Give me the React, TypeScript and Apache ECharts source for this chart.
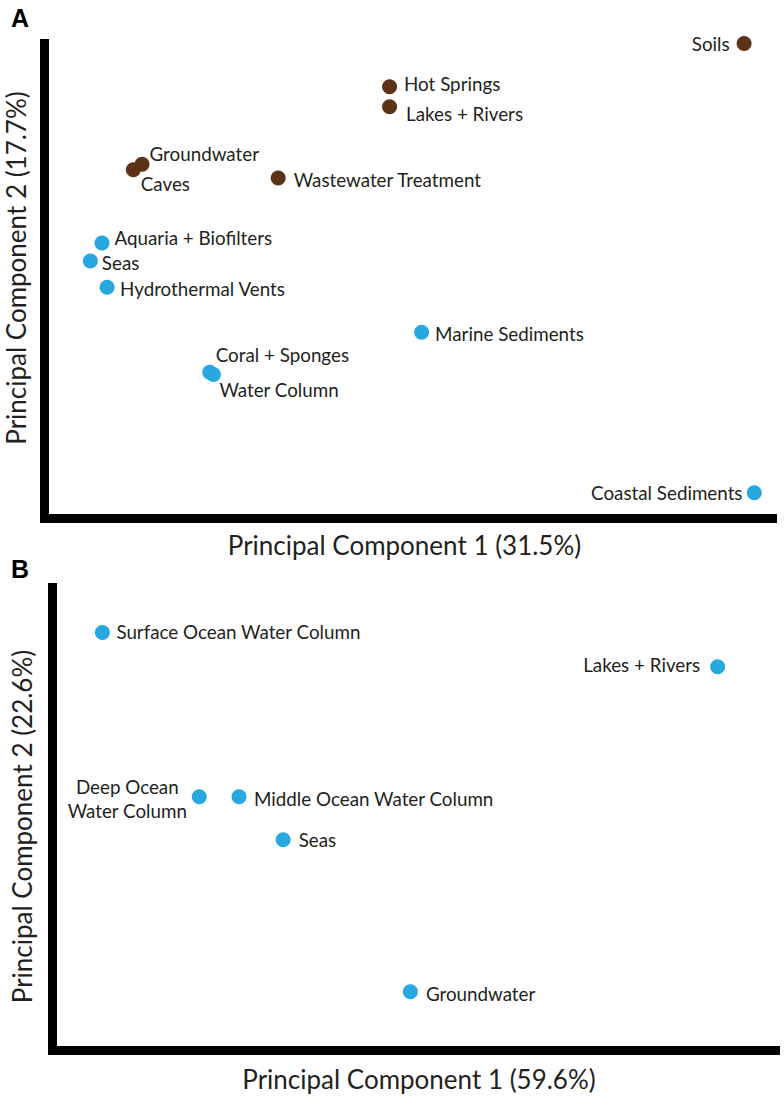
import { useEffect, useRef } from "react";
import * as echarts from "echarts";

// ---------- Data (arbitrary PCA score units 0..100) ----------
const aBrownNames = ["Soils", "Hot Springs", "Lakes + Rivers", "Groundwater", "Caves", "Wastewater Treatment"];
const aBrownPC1 = [96.1, 47.4, 47.4, 13.4, 12.2, 32.1];
const aBrownPC2 = [100.0, 90.9, 86.7, 74.6, 73.4, 71.7];

const aBlueNames = ["Aquaria + Biofilters", "Seas", "Hydrothermal Vents", "Marine Sediments", "Coral + Sponges", "Water Column", "Coastal Sediments"];
const aBluePC1 = [7.9, 6.3, 8.6, 51.8, 22.7, 23.2, 97.5];
const aBluePC2 = [58.0, 54.2, 48.7, 39.2, 30.8, 30.3, 5.4];

const bNames = ["Surface Ocean Water Column", "Lakes + Rivers", "Deep Ocean\nWater Column", "Middle Ocean Water Column", "Seas", "Groundwater"];
const bPC1 = [6.9, 92.0, 20.3, 25.8, 31.9, 49.5];
const bPC2 = [90.3, 82.9, 54.8, 54.8, 45.5, 12.7];

const axisTitlesA = ["Principal Component 1 (31.5%)", "Principal Component 2 (17.7%)"];
const axisTitlesB = ["Principal Component 1 (59.6%)", "Principal Component 2 (22.6%)"];
const panelLetters = ["A", "B"];

// ---------- Label placement (style only) ----------
type Place = [string, number, number, string?];
const aBrownPlace: Place[] = [
  ["left", -2, 0],
  ["right", 2, -3.4],
  ["right", 4, 7],
  ["right", -5, -11],
  ["right", -5, 14],
  ["right", 3, 2],
];
const aBluePlace: Place[] = [
  ["right", 0, -6],
  ["right", -1, 1.7],
  ["right", 0.5, 1],
  ["right", 1, 1],
  ["right", -6.5, -18],
  ["right", -6.5, 14.5],
  ["left", 0.7, 0],
];
const bPlace: Place[] = [
  ["right", 1.5, -0.6],
  ["left", -5, -1.7],
  ["left", -59.5, 2, "center"],
  ["right", 2.5, 1.6],
  ["right", 3, 0],
  ["right", 3, 2],
];

const BROWN = "#5C3317";
const BLUE = "#29A8E0";
const INK = "#231F20";
const LABEL_FONT = "Lato";

function buildData(names: string[], xs: number[], ys: number[], places: Place[]) {
  return names.map((n, i) => {
    const p = places[i];
    return {
      name: n,
      value: [xs[i], ys[i]],
      label: {
        position: p[0],
        offset: [p[1], p[2]],
        ...(p[3] ? { align: p[3] } : {}),
      },
    };
  });
}

function axisLine() {
  return {
    show: true,
    onZero: false,
    lineStyle: { color: "#000", width: 9, cap: "square" },
  };
}

export default function App() {
  const ref = useRef<HTMLDivElement>(null);
  useEffect(() => {
    if (!ref.current) return;
    const chart = echarts.init(ref.current, undefined, { renderer: "svg" });
    const labelStyle = {
      show: true,
      formatter: "{b}",
      color: INK,
      fontFamily: LABEL_FONT,
      fontSize: 18.8,
      lineHeight: 24,
      distance: 5,
    };
    const nameStyle = { color: INK, fontFamily: LABEL_FONT, fontSize: 26 };
    const letterStyle = { fontFamily: "Liberation Sans", fontWeight: "bold", fontSize: 25, color: "#000" };
    const baseX = {
      type: "value",
      min: 0,
      max: 100,
      axisLine: axisLine(),
      axisTick: { show: false },
      axisLabel: { show: false },
      splitLine: { show: false },
      nameLocation: "middle",
      nameMoveOverlap: false,
    };
    const option: any = {
      animation: false,
      backgroundColor: "#fff",
      title: [
        { text: panelLetters[0], left: 11, top: 5, padding: 0, textStyle: letterStyle },
        { text: panelLetters[1], left: 11, top: 556, padding: 0, textStyle: letterStyle },
      ],
      grid: [
        { left: 44.5, right: 11.5, top: 43.5, bottom: 580.5, containLabel: false, outerBoundsMode: "none" },
        { left: 52.5, right: 8.5, top: 587.5, bottom: 48.5, containLabel: false, outerBoundsMode: "none" },
      ],
      xAxis: [
        {
          ...baseX,
          gridIndex: 0,
          name: axisTitlesA[0],
          nameGap: 13.5,
          nameTextStyle: { ...nameStyle, padding: [0, 8, 0, 0] },
        },
        {
          ...baseX,
          gridIndex: 1,
          name: axisTitlesB[0],
          nameGap: 15,
          nameTextStyle: { ...nameStyle, padding: [0, 0, 0, 10] },
        },
      ],
      yAxis: [
        {
          ...baseX,
          gridIndex: 0,
          name: axisTitlesA[1],
          nameGap: 15.5,
          nameRotate: 90,
          nameTextStyle: { ...nameStyle, padding: [0, 0, 0, 26] },
        },
        {
          ...baseX,
          gridIndex: 1,
          name: axisTitlesB[1],
          nameGap: 17.8,
          nameRotate: 90,
          nameTextStyle: { ...nameStyle, padding: [0, 15, 0, 0] },
        },
      ],
      series: [
        {
          type: "scatter",
          xAxisIndex: 0,
          yAxisIndex: 0,
          symbolSize: 15,
          itemStyle: { color: BROWN, opacity: 1 },
          label: labelStyle,
          data: buildData(aBrownNames, aBrownPC1, aBrownPC2, aBrownPlace),
        },
        {
          type: "scatter",
          xAxisIndex: 0,
          yAxisIndex: 0,
          symbolSize: 15,
          itemStyle: { color: BLUE, opacity: 1 },
          label: labelStyle,
          data: buildData(aBlueNames, aBluePC1, aBluePC2, aBluePlace),
        },
        {
          type: "scatter",
          xAxisIndex: 1,
          yAxisIndex: 1,
          symbolSize: 15,
          itemStyle: { color: BLUE, opacity: 1 },
          label: labelStyle,
          data: buildData(bNames, bPC1, bPC2, bPlace),
        },
      ],
    };
    chart.setOption(option);
    return () => chart.dispose();
  }, []);
  return (
    <div
      ref={ref}
      style={{ position: "absolute", left: 0, top: 0, width: 784, height: 1099, background: "#fff" }}
    />
  );
}
